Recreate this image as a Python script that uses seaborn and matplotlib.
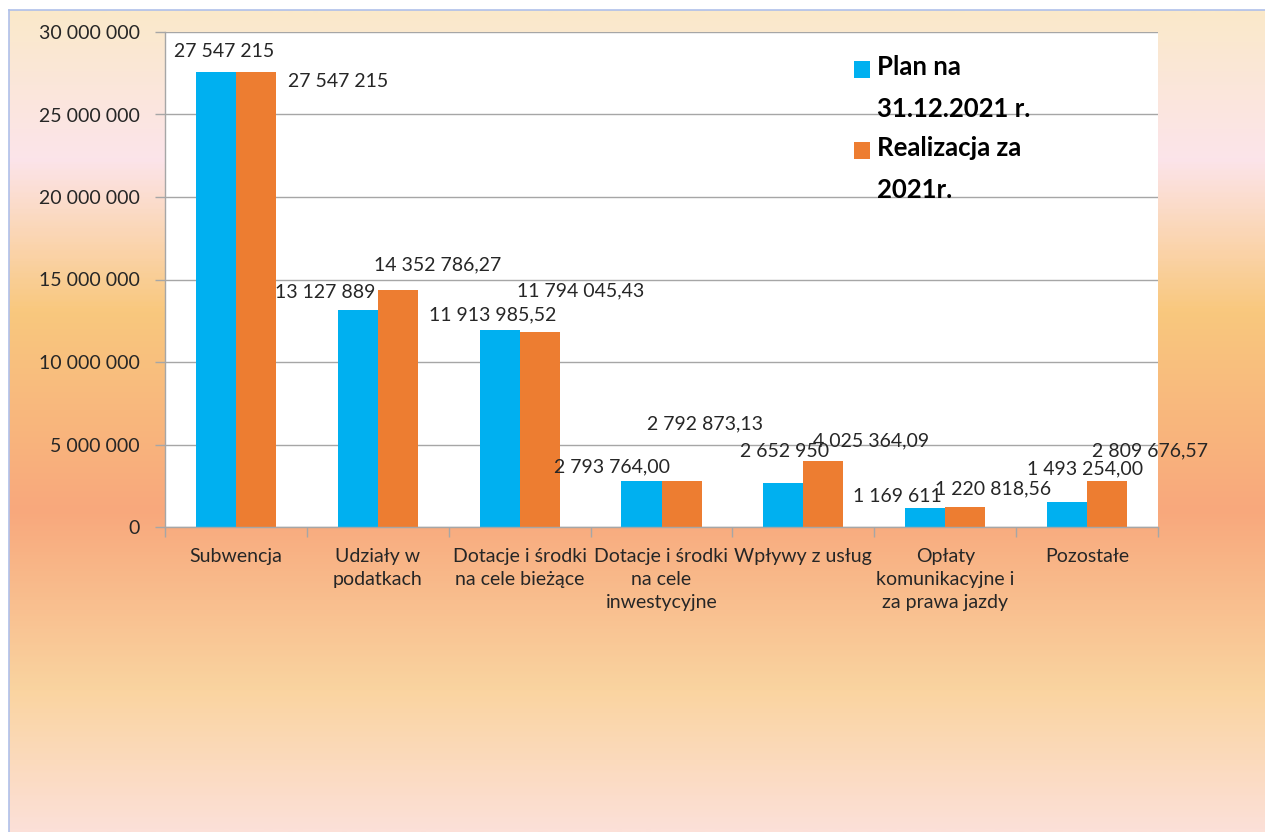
import numpy as np
import pandas as pd
import matplotlib
matplotlib.use("Agg")
import matplotlib.pyplot as plt
import seaborn as sns
from matplotlib.colors import LinearSegmentedColormap
from matplotlib.ticker import FuncFormatter, FixedLocator
from matplotlib.legend_handler import HandlerPatch
from matplotlib.patches import Rectangle

# ---------------- data ----------------
categories = [
    "Subwencja",
    "Udziały w\npodatkach",
    "Dotacje i środki\nna cele bieżące",
    "Dotacje i środki\nna cele\ninwestycyjne",
    "Wpływy z usług",
    "Opłaty\nkomunikacyjne i\nza prawa jazdy",
    "Pozostałe",
]
plan = [27547215, 13127889, 11913985.52, 2793764.00, 2652950, 1169611, 1493254.00]
real = [27547215, 14352786.27, 11794045.43, 2792873.13, 4025364.09, 1220818.56, 2809676.57]
plan_decimals = [0, 0, 2, 2, 0, 0, 2]
real_decimals = [0, 2, 2, 2, 2, 2, 2]
series = ["Plan na\n31.12.2021 r.", "Realizacja za\n2021r."]
y_ticks = [0, 5000000, 10000000, 15000000, 20000000, 25000000, 30000000]

# label offsets (pixels) relative to bar top centre -- style only
plan_offsets = [(8, 21), (-33, 18), (-7, 16), (-29, 14), (1, 32), (-28, 11), (18, 33)]
real_offsets = [(82, -9), (40, 25), (41, 42), (23, 57), (48, 20), (28, 18), (43, 30)]

BLUE = "#00B0F0"
ORANGE = "#ED7D31"
TXT = "#262626"
GRID = "#A6A6A6"

df = pd.DataFrame({
    "kategoria": categories * 2,
    "wartość": plan + real,
    "seria": [series[0]] * len(plan) + [series[1]] * len(real),
})

sns.set_theme(style="white")
plt.rcParams["font.family"] = ["Lato", "DejaVu Sans"]

W, H = 1265, 832
fig = plt.figure(figsize=(W / 100, H / 100), dpi=100)
fig.patch.set_facecolor("white")

# ---------------- gradient background ----------------
ax_bg = fig.add_axes([9 / W, 0, 1 - 9 / W, 1 - 10 / H], zorder=0)
stops = [(0.0, "#FAE9CA"), (0.18, "#FCE4EA"), (0.365, "#F9C87E"),
         (0.61, "#F8A87C"), (0.83, "#FAD4A0"), (1.0, "#FCE0D8")]
cmap = LinearSegmentedColormap.from_list("bg", stops)
ax_bg.imshow(np.linspace(0, 1, 400).reshape(-1, 1), aspect="auto", cmap=cmap,
             extent=[0, 1, 1, 0])
ax_bg.set_xticks([])
ax_bg.set_yticks([])
for s in ["bottom", "right"]:
    ax_bg.spines[s].set_visible(False)
for s in ["left", "top"]:
    ax_bg.spines[s].set_color("#AFC0EA")
    ax_bg.spines[s].set_linewidth(1.2)

# ---------------- main chart ----------------
ax = fig.add_axes([165 / W, 305 / H, 993 / W, 495 / H], zorder=1)
ax.set_facecolor("white")
sns.barplot(data=df, x="kategoria", y="wartość", hue="seria",
            palette=[BLUE, ORANGE], width=0.564, saturation=1,
            errorbar=None, linewidth=0, ax=ax)

ax.set_xlim(-0.5, len(categories) - 0.5)
ax.set_ylim(0, 30000000)
ax.yaxis.set_major_locator(FixedLocator(y_ticks))
ax.yaxis.set_major_formatter(FuncFormatter(lambda v, p: f"{int(v):,}".replace(",", " ")))
ax.grid(axis="y", color=GRID, lw=1)
ax.grid(axis="x", visible=False)
ax.set_axisbelow(True)
ax.set_xlabel("")
ax.set_ylabel("")
for s in ["top", "right"]:
    ax.spines[s].set_visible(False)
for s in ["left", "bottom"]:
    ax.spines[s].set_color(GRID)
    ax.spines[s].set_linewidth(1)

ax.tick_params(axis="y", left=True, length=7, width=1, color=GRID, pad=11,
               labelsize=14, labelcolor=TXT, direction="out")
ax.tick_params(axis="x", which="major", length=0, pad=15, labelsize=14, labelcolor=TXT)
ax.set_xticks(np.arange(-0.5, len(categories), 1.0), minor=True)
ax.tick_params(axis="x", which="minor", bottom=True, length=7, width=1, color=GRID,
               direction="out")
for t in ax.get_xticklabels():
    t.set_linespacing(1.45)
    t.set_va("top")


def fmt(v, d):
    return f"{v:,.{d}f}".replace(",", " ").replace(".", ",")


for cont, decs, offs in zip(ax.containers, [plan_decimals, real_decimals],
                            [plan_offsets, real_offsets]):
    for bar, d, (dx, dy) in zip(cont, decs, offs):
        cx = bar.get_x() + bar.get_width() / 2
        h = bar.get_height()
        ax.annotate(fmt(h, d), xy=(cx, h), xytext=(dx, dy), textcoords="offset pixels",
                    ha="center", va="center", fontsize=14, color=TXT,
                    annotation_clip=False, zorder=5)


def top_square(legend, orig_handle, xdescent, ydescent, width, height, fontsize):
    # square aligned with the first line of a two-line label
    return Rectangle((-xdescent, -ydescent + 0.76 * fontsize), width, height)


handles, labels = ax.get_legend_handles_labels()
leg = ax.legend(handles, labels, loc="upper left",
                bbox_to_anchor=(854 / W, 1 - 55 / H), bbox_transform=fig.transFigure,
                frameon=False, prop={"weight": "bold", "size": 18.5},
                handlelength=0.63, handleheight=0.63, handletextpad=0.27,
                labelspacing=0.6, borderpad=0, borderaxespad=0,
                handler_map={type(handles[0]): HandlerPatch(patch_func=top_square)})
for t in leg.get_texts():
    t.set_linespacing(1.89)
    t.set_color("black")

fig.savefig("out.png", dpi=100)
